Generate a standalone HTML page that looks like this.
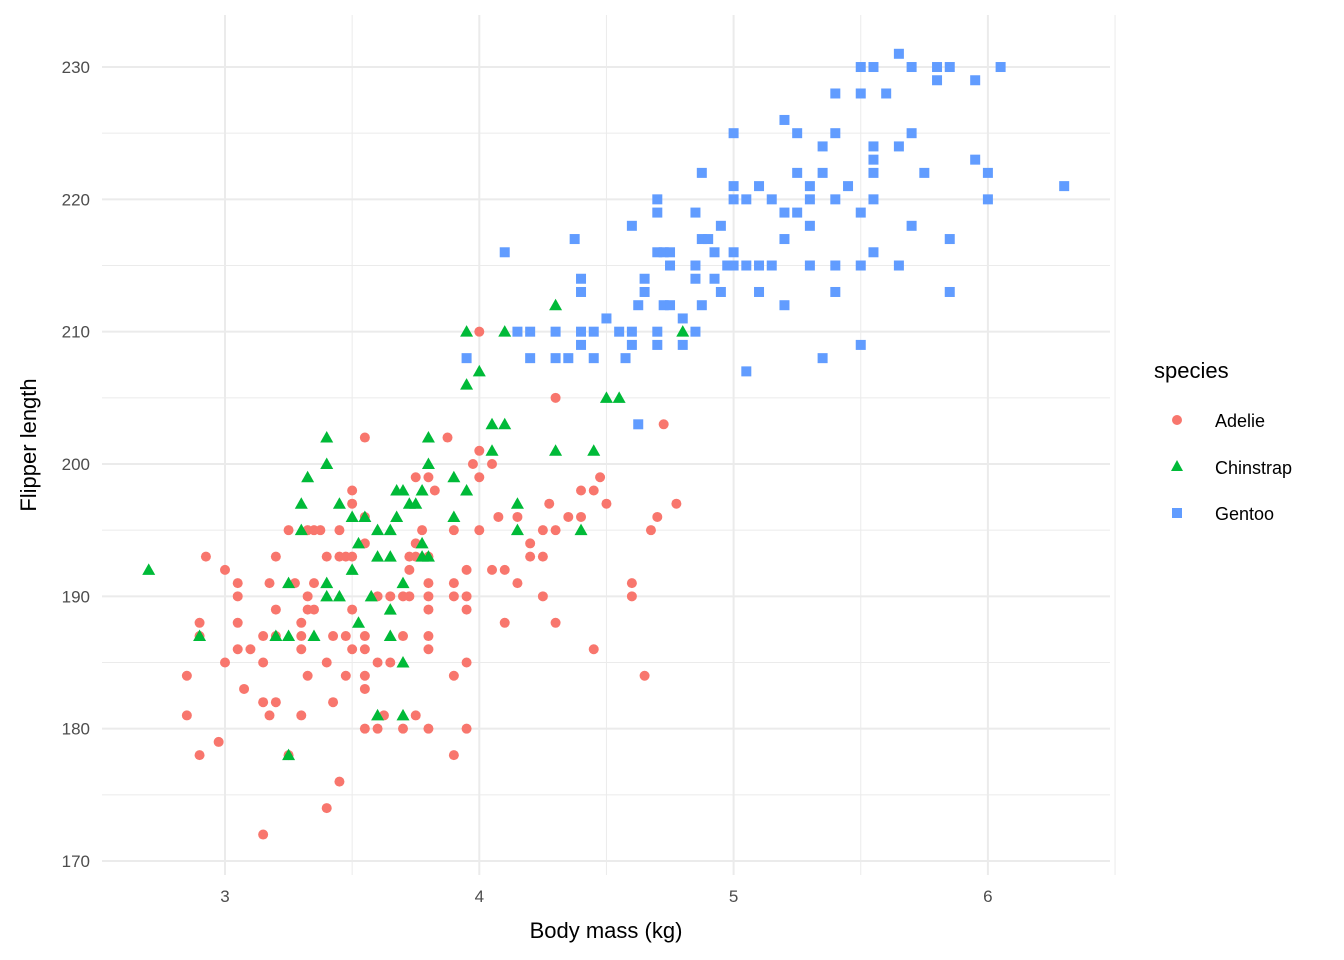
<!DOCTYPE html>
<html><head><meta charset="utf-8"><style>
html,body{margin:0;padding:0;background:#fff;}
svg{display:block;font-family:"Liberation Sans",sans-serif;}
</style></head><body>
<svg id="chart" width="1344" height="960" viewBox="0 0 1344 960">
<rect x="0" y="0" width="1344" height="960" fill="#fff"/>
<g id="grid"></g>
<g id="points"></g>
<g id="axes"></g>
<text x="606" y="938" font-size="22" text-anchor="middle" fill="#000">Body mass (kg)</text>
<text transform="translate(36,445) rotate(-90)" font-size="22" text-anchor="middle" fill="#000">Flipper length</text>
<g>
<text x="1154" y="378" font-size="22" fill="#000">species</text>
<g><circle cx="1177" cy="420" r="5" fill="#F8766D"/><text x="1215" y="427" font-size="18" fill="#000">Adelie</text></g>
<g><polygon points="1177,460 1183,471 1171,471" fill="#00BA38"/><text x="1215" y="474" font-size="18" fill="#000">Chinstrap</text></g>
<g><rect x="1172" y="508" width="10" height="10" fill="#619CFF"/><text x="1215" y="520" font-size="18" fill="#000">Gentoo</text></g>
</g>
</svg>
<script>
const xTicks=[3,4,5,6];
const yTicks=[170,180,190,200,210,220,230];
const adelie=[[4000,210],[4300,205],[4725,203],[3550,202],[3875,202],[4000,201],[3975,200],[4050,200],[3750,199],[3800,199],[4000,199],[4475,199],[3500,198],[3825,198],[4400,198],[4450,198],[3500,197],[4275,197],[4500,197],[4775,197],[3550,196],[4075,196],[4150,196],[4350,196],[4400,196],[4700,196],[3250,195],[3325,195],[3350,195],[3375,195],[3450,195],[3775,195],[3900,195],[4000,195],[4250,195],[4300,195],[4675,195],[3550,194],[3750,194],[4200,194],[2925,193],[3200,193],[3400,193],[3450,193],[3475,193],[3500,193],[3725,193],[3750,193],[3800,193],[4200,193],[4250,193],[3000,192],[3725,192],[3950,192],[4050,192],[4100,192],[3050,191],[3175,191],[3275,191],[3350,191],[3800,191],[3900,191],[4150,191],[4600,191],[3050,190],[3325,190],[3600,190],[3650,190],[3700,190],[3725,190],[3800,190],[3900,190],[3950,190],[4250,190],[4600,190],[3200,189],[3325,189],[3350,189],[3500,189],[3800,189],[3950,189],[2900,188],[3050,188],[3300,188],[4100,188],[4300,188],[2900,187],[3150,187],[3200,187],[3300,187],[3425,187],[3475,187],[3550,187],[3700,187],[3800,187],[3050,186],[3100,186],[3300,186],[3500,186],[3550,186],[3800,186],[4450,186],[3000,185],[3150,185],[3400,185],[3600,185],[3650,185],[3950,185],[2850,184],[3325,184],[3475,184],[3550,184],[3900,184],[4650,184],[3075,183],[3550,183],[3150,182],[3200,182],[3425,182],[2850,181],[3175,181],[3300,181],[3625,181],[3750,181],[3550,180],[3600,180],[3700,180],[3800,180],[3950,180],[2975,179],[2900,178],[3250,178],[3900,178],[3450,176],[3400,174],[3150,172]];
const gentoo=[[5500,230],[5550,230],[5700,230],[5800,230],[5850,230],[6050,230],[5650,231],[5800,229],[5950,229],[5400,228],[5500,228],[5600,228],[5200,226],[5000,225],[5250,225],[5400,225],[5700,225],[5350,224],[5550,224],[5650,224],[5550,223],[5950,223],[4875,222],[5250,222],[5350,222],[5550,222],[5750,222],[6000,222],[5000,221],[5100,221],[5300,221],[5450,221],[6300,221],[4700,220],[5000,220],[5050,220],[5150,220],[5300,220],[5400,220],[5550,220],[6000,220],[4700,219],[4850,219],[5200,219],[5250,219],[5500,219],[4600,218],[4950,218],[5300,218],[5700,218],[4375,217],[4875,217],[4900,217],[5200,217],[5850,217],[4100,216],[4700,216],[4725,216],[4750,216],[4925,216],[5000,216],[5550,216],[4750,215],[4850,215],[4975,215],[5000,215],[5050,215],[5100,215],[5150,215],[5300,215],[5400,215],[5500,215],[5650,215],[4400,214],[4650,214],[4850,214],[4925,214],[4400,213],[4650,213],[4950,213],[5100,213],[5400,213],[5850,213],[4625,212],[4725,212],[4750,212],[4875,212],[5200,212],[4500,211],[4800,211],[4150,210],[4200,210],[4300,210],[4400,210],[4450,210],[4550,210],[4600,210],[4700,210],[4850,210],[4400,209],[4600,209],[4700,209],[4800,209],[5500,209],[3950,208],[4200,208],[4300,208],[4350,208],[4450,208],[4575,208],[5350,208],[5050,207],[4625,203]];
const chinstrap=[[2700,192],[2900,187],[3200,187],[3250,187],[3350,187],[3650,187],[3250,178],[3250,191],[3400,191],[3700,191],[3300,197],[3450,197],[3725,197],[3750,197],[3300,195],[3600,195],[3650,195],[4150,195],[4400,195],[3325,199],[3900,199],[3400,202],[3800,202],[3400,200],[3800,200],[3400,190],[3450,190],[3575,190],[3500,196],[3550,196],[3675,196],[3900,196],[3525,194],[3775,194],[3500,192],[3525,188],[3600,193],[3650,193],[3775,193],[3800,193],[3675,198],[3700,198],[3775,198],[3950,198],[3650,189],[3700,185],[3600,181],[3700,181],[3950,206],[3950,210],[4100,210],[4800,210],[4000,207],[4050,203],[4100,203],[4050,201],[4300,201],[4450,201],[4300,212],[4500,205],[4550,205],[4150,197]];

const NS='http://www.w3.org/2000/svg';
const L=102,R=1110,T=15,B=875;
function xs(kg){return 225+(kg-3)*254.3;}
function ys(f){return 861-(f-170)*13.233;}
function mk(tag,attrs,parent){const e=document.createElementNS(NS,tag);for(const k in attrs)e.setAttribute(k,attrs[k]);parent.appendChild(e);return e;}
const grid=document.getElementById('grid');
const axes=document.getElementById('axes');
const pts=document.getElementById('points');
xTicks.forEach((t,i)=>{
  if(i>0){const m=mk('line',{x1:xs(t-0.5),x2:xs(t-0.5),y1:T,y2:B,stroke:'#ebebeb','stroke-width':1},grid);
  
  }
  const g=mk('line',{x1:xs(t),x2:xs(t),y1:T,y2:B,stroke:'#ebebeb','stroke-width':2},grid);
  
  
  const tx=mk('text',{x:xs(t),y:902,'font-size':17,'text-anchor':'middle',fill:'#4d4d4d'},axes);
  tx.textContent=t;
  
  
});
{const m=mk('line',{x1:xs(6.5),x2:xs(6.5),y1:T,y2:B,stroke:'#ebebeb','stroke-width':1},grid);

}
yTicks.forEach((t,i)=>{
  if(i>0){const m=mk('line',{x1:L,x2:R,y1:ys(t-5),y2:ys(t-5),stroke:'#ebebeb','stroke-width':1},grid);
  
  }
  const g=mk('line',{x1:L,x2:R,y1:ys(t),y2:ys(t),stroke:'#ebebeb','stroke-width':2},grid);
  
  
  const tx=mk('text',{x:90,y:ys(t)+6,'font-size':17,'text-anchor':'end',fill:'#4d4d4d'},axes);
  tx.textContent=t;
  
  
});
adelie.forEach(d=>{
  const c=mk('circle',{cx:xs(d[0]/1000),cy:ys(d[1]),r:5,fill:'#F8766D'},pts);
  
  
});
gentoo.forEach(d=>{
  const x=xs(d[0]/1000),y=ys(d[1]);
  const r=mk('rect',{x:x-5,y:y-5,width:10,height:10,fill:'#619CFF'},pts);
  
  
});
chinstrap.forEach(d=>{
  const x=xs(d[0]/1000),y=ys(d[1]);
  const p=mk('polygon',{points:`${x},${y-6.5} ${x+6.5},${y+5} ${x-6.5},${y+5}`,fill:'#00BA38'},pts);
  
  
});
</script>
</body></html>
